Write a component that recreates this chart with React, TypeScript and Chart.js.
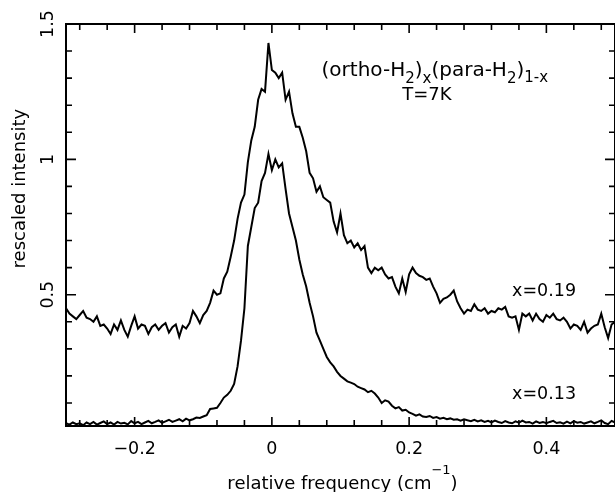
import React, { useEffect, useRef } from "react";
import { Chart, registerables } from "chart.js";

Chart.register(...registerables);

// relative frequency grid (cm^-1)
const frequency = [
  -0.300, -0.295, -0.290, -0.285, -0.280, -0.275, -0.270, -0.265, -0.260, -0.255,
  -0.250, -0.245, -0.240, -0.235, -0.230, -0.225, -0.220, -0.215, -0.210, -0.205,
  -0.200, -0.195, -0.190, -0.185, -0.180, -0.175, -0.170, -0.165, -0.160, -0.155,
  -0.150, -0.145, -0.140, -0.135, -0.130, -0.125, -0.120, -0.115, -0.110, -0.105,
  -0.100, -0.095, -0.090, -0.085, -0.080, -0.075, -0.070, -0.065, -0.060, -0.055,
  -0.050, -0.045, -0.040, -0.035, -0.030, -0.025, -0.020, -0.015, -0.010, -0.005,
  0.000, 0.005, 0.010, 0.015, 0.020, 0.025, 0.030, 0.035, 0.040, 0.045,
  0.050, 0.055, 0.060, 0.065, 0.070, 0.075, 0.080, 0.085, 0.090, 0.095,
  0.100, 0.105, 0.110, 0.115, 0.120, 0.125, 0.130, 0.135, 0.140, 0.145,
  0.150, 0.155, 0.160, 0.165, 0.170, 0.175, 0.180, 0.185, 0.190, 0.195,
  0.200, 0.205, 0.210, 0.215, 0.220, 0.225, 0.230, 0.235, 0.240, 0.245,
  0.250, 0.255, 0.260, 0.265, 0.270, 0.275, 0.280, 0.285, 0.290, 0.295,
  0.300, 0.305, 0.310, 0.315, 0.320, 0.325, 0.330, 0.335, 0.340, 0.345,
  0.350, 0.355, 0.360, 0.365, 0.370, 0.375, 0.380, 0.385, 0.390, 0.395,
  0.400, 0.405, 0.410, 0.415, 0.420, 0.425, 0.430, 0.435, 0.440, 0.445,
  0.450, 0.455, 0.460, 0.465, 0.470, 0.475, 0.480, 0.485, 0.490, 0.495,
  0.500,
];

// rescaled intensity, x = 0.19
const intensityX019 = [
  0.45, 0.43, 0.42, 0.41, 0.425, 0.44, 0.415, 0.41, 0.40, 0.42,
  0.385, 0.39, 0.375, 0.355, 0.39, 0.37, 0.405, 0.37, 0.345, 0.385,
  0.42, 0.375, 0.39, 0.385, 0.355, 0.38, 0.39, 0.37, 0.385, 0.395,
  0.36, 0.38, 0.39, 0.345, 0.385, 0.375, 0.395, 0.44, 0.42, 0.395,
  0.425, 0.44, 0.47, 0.515, 0.50, 0.505, 0.56, 0.585, 0.64, 0.70,
  0.78, 0.84, 0.87, 0.99, 1.07, 1.12, 1.22, 1.26, 1.25, 1.43,
  1.33, 1.32, 1.30, 1.32, 1.22, 1.25, 1.17, 1.12, 1.12, 1.08,
  1.03, 0.95, 0.93, 0.88, 0.90, 0.86, 0.85, 0.84, 0.77, 0.73,
  0.80, 0.72, 0.69, 0.70, 0.675, 0.69, 0.665, 0.68, 0.60, 0.58,
  0.60, 0.59, 0.60, 0.575, 0.56, 0.565, 0.53, 0.505, 0.56, 0.51,
  0.575, 0.60, 0.58, 0.57, 0.565, 0.555, 0.56, 0.53, 0.505, 0.47,
  0.485, 0.49, 0.50, 0.515, 0.475, 0.45, 0.43, 0.445, 0.44, 0.465,
  0.445, 0.44, 0.45, 0.43, 0.44, 0.435, 0.45, 0.445, 0.455, 0.42,
  0.415, 0.42, 0.37, 0.43, 0.42, 0.43, 0.405, 0.43, 0.41, 0.40,
  0.425, 0.415, 0.43, 0.41, 0.405, 0.415, 0.40, 0.375, 0.39, 0.385,
  0.37, 0.40, 0.36, 0.375, 0.385, 0.39, 0.43, 0.38, 0.34, 0.39,
  0.40,
];

// rescaled intensity, x = 0.13
const intensityX013 = [
  0.025, 0.02, 0.028, 0.022, 0.025, 0.018, 0.028, 0.022, 0.03, 0.02,
  0.026, 0.032, 0.022, 0.028, 0.02, 0.03, 0.024, 0.027, 0.021, 0.033,
  0.025, 0.03, 0.022, 0.028, 0.034, 0.025, 0.03, 0.036, 0.027, 0.032,
  0.038, 0.03, 0.035, 0.04, 0.032, 0.042, 0.036, 0.04, 0.046, 0.045,
  0.05, 0.055, 0.078, 0.08, 0.082, 0.10, 0.12, 0.13, 0.145, 0.17,
  0.235, 0.33, 0.45, 0.68, 0.75, 0.82, 0.84, 0.92, 0.95, 1.02,
  0.96, 1.0, 0.97, 0.985, 0.89, 0.80, 0.75, 0.70, 0.63, 0.575,
  0.53, 0.47, 0.42, 0.36, 0.33, 0.30, 0.27, 0.25, 0.235, 0.215,
  0.20, 0.19, 0.18, 0.175, 0.17, 0.16, 0.155, 0.15, 0.14, 0.145,
  0.135, 0.12, 0.10, 0.11, 0.105, 0.09, 0.08, 0.085, 0.072, 0.075,
  0.065, 0.06, 0.053, 0.058, 0.05, 0.048, 0.052, 0.045, 0.048, 0.042,
  0.045, 0.04, 0.043, 0.038, 0.04, 0.035, 0.04, 0.036, 0.033, 0.038,
  0.032, 0.036, 0.03, 0.034, 0.028, 0.035, 0.03, 0.026, 0.033, 0.028,
  0.025, 0.032, 0.027, 0.035, 0.028, 0.03, 0.024, 0.032, 0.026, 0.03,
  0.025, 0.03, 0.034, 0.026, 0.029, 0.024, 0.031, 0.025, 0.033, 0.027,
  0.03, 0.024, 0.028, 0.032, 0.025, 0.03, 0.036, 0.026, 0.022, 0.034,
  0.028,
];

const seriesLabels = ["x=0.19", "x=0.13"];

const xTickValues = [
  -0.28, -0.24, -0.2, -0.16, -0.12, -0.08, -0.04, 0, 0.04, 0.08,
  0.12, 0.16, 0.2, 0.24, 0.28, 0.32, 0.36, 0.4, 0.44, 0.48,
];
const xMajorValues = [-0.2, 0, 0.2, 0.4];
const xMajorLabels = ["\u22120.2", "0", "0.2", "0.4"];

const yTickValues = [0.1, 0.2, 0.3, 0.4, 0.5, 0.6, 0.7, 0.8, 0.9, 1.0, 1.1, 1.2, 1.3, 1.4, 1.5];
const yMajorValues = [0.5, 1, 1.5];
const yMajorLabels = ["0.5", "1", "1.5"];

const FONT = '"DejaVu Sans", sans-serif';

function majorIndex(v: number, majors: number[]) {
  return majors.findIndex((m) => Math.abs(m - v) < 1e-9);
}

type Run = { text: string; size: number; dy: number };

function drawRuns(ctx: CanvasRenderingContext2D, x: number, y: number, runs: Run[]) {
  let cx = x;
  for (const r of runs) {
    ctx.font = `${r.size}px ${FONT}`;
    ctx.fillText(r.text, cx, y + r.dy);
    cx += ctx.measureText(r.text).width;
  }
  return cx - x;
}

const framePlugin = {
  id: "frameAndText",
  afterDraw(chart: any) {
    const { ctx, chartArea: a, scales } = chart;
    const xs = scales.x;
    const ys = scales.y;
    ctx.save();
    ctx.strokeStyle = "#000";
    ctx.fillStyle = "#000";
    ctx.lineWidth = 2;
    ctx.strokeRect(a.left, a.top, a.right - a.left, a.bottom - a.top);

    ctx.lineWidth = 1.6;
    ctx.beginPath();
    for (const t of xs.ticks) {
      const px = xs.getPixelForValue(t.value);
      const len = majorIndex(t.value, xMajorValues) >= 0 ? 9 : 6;
      ctx.moveTo(px, a.bottom);
      ctx.lineTo(px, a.bottom - len);
      ctx.moveTo(px, a.top);
      ctx.lineTo(px, a.top + len);
    }
    for (const t of ys.ticks) {
      const py = ys.getPixelForValue(t.value);
      const len = majorIndex(t.value, yMajorValues) >= 0 ? 10 : 6;
      ctx.moveTo(a.left, py);
      ctx.lineTo(a.left + len, py);
      ctx.moveTo(a.right, py);
      ctx.lineTo(a.right - len, py);
    }
    ctx.stroke();

    ctx.textAlign = "left";
    ctx.textBaseline = "alphabetic";

    // annotation
    const tx = xs.getPixelForValue(0.0724);
    const ty = ys.getPixelForValue(1.3095);
    drawRuns(ctx, tx, ty, [
      { text: "(ortho-H", size: 20, dy: 0 },
      { text: "2", size: 15, dy: 7 },
      { text: ")", size: 20, dy: 0 },
      { text: "x", size: 15, dy: 7 },
      { text: "(para-H", size: 20, dy: 0 },
      { text: "2", size: 15, dy: 7 },
      { text: ")", size: 20, dy: 0 },
      { text: "1-x", size: 15, dy: 6 },
    ]);
    drawRuns(ctx, xs.getPixelForValue(0.19), ys.getPixelForValue(1.2188), [
      { text: "T=7K", size: 18, dy: 0 },
    ]);

    // series labels
    drawRuns(ctx, xs.getPixelForValue(0.35), ys.getPixelForValue(0.4937), [
      { text: seriesLabels[0], size: 17.5, dy: 0 },
    ]);
    drawRuns(ctx, xs.getPixelForValue(0.35), ys.getPixelForValue(0.1163), [
      { text: seriesLabels[1], size: 17.5, dy: 0 },
    ]);

    // x axis title
    const xRuns: Run[] = [
      { text: "relative frequency (cm", size: 18, dy: 0 },
      { text: "\u22121", size: 13, dy: -15 },
      { text: ")", size: 18, dy: 0 },
    ];
    let w = 0;
    for (const r of xRuns) {
      ctx.font = `${r.size}px ${FONT}`;
      w += ctx.measureText(r.text).width;
    }
    const cxm = (a.left + a.right) / 2 + 2;
    drawRuns(ctx, cxm - w / 2, a.bottom + 63, xRuns);

    // y axis title
    ctx.save();
    ctx.translate(a.left - 41, ys.getPixelForValue(0.597));
    ctx.rotate(-Math.PI / 2);
    ctx.font = `18px ${FONT}`;
    ctx.fillText("rescaled intensity", 0, 0);
    ctx.restore();

    ctx.restore();
  },
};

export default function App() {
  const ref = useRef<HTMLCanvasElement | null>(null);

  useEffect(() => {
    const canvas = ref.current;
    if (!canvas) return;
    const lineStyle = {
      borderColor: "#000",
      borderWidth: 2,
      pointRadius: 0,
      fill: false,
      tension: 0,
    };
    const chart = new Chart(canvas, {
      type: "line",
      data: {
        datasets: [
          {
            label: seriesLabels[0],
            data: frequency.map((f, i) => ({ x: f, y: intensityX019[i] })),
            ...lineStyle,
          },
          {
            label: seriesLabels[1],
            data: frequency.map((f, i) => ({ x: f, y: intensityX013[i] })),
            ...lineStyle,
          },
        ],
      },
      options: {
        animation: false,
        responsive: false,
        layout: { padding: { top: 24, right: 0, bottom: 0, left: 0 } },
        plugins: { legend: { display: false }, tooltip: { enabled: false } },
        scales: {
          x: {
            type: "linear",
            min: -0.3,
            max: 0.5,
            afterBuildTicks: (s: any) => {
              s.ticks = xTickValues.map((v) => ({ value: v }));
            },
            afterFit: (s: any) => {
              s.height = 66;
            },
            grid: { display: false, drawTicks: false },
            border: { display: false },
            ticks: {
              autoSkip: false,
              minRotation: 0,
              maxRotation: 0,
              padding: 13,
              color: "#000",
              font: { family: FONT, size: 17.5 },
              callback: (v: any) => {
                const k = majorIndex(Number(v), xMajorValues);
                return k >= 0 ? xMajorLabels[k] : "";
              },
            },
          },
          y: {
            type: "linear",
            min: 0.015,
            max: 1.5,
            afterBuildTicks: (s: any) => {
              s.ticks = yTickValues.map((v) => ({ value: v }));
            },
            afterFit: (s: any) => {
              s.width = 66;
            },
            grid: { display: false, drawTicks: false },
            border: { display: false },
            ticks: {
              autoSkip: false,
              minRotation: 90,
              maxRotation: 90,
              crossAlign: "center",
              padding: 4,
              color: "#000",
              font: { family: FONT, size: 17.5 },
              callback: (v: any) => {
                const k = majorIndex(Number(v), yMajorValues);
                return k >= 0 ? yMajorLabels[k] : "";
              },
            },
          },
        },
      },
      plugins: [framePlugin],
    } as any);
    return () => chart.destroy();
  }, []);

  return (
    <div style={{ position: "fixed", left: 0, top: 0, width: 615, height: 492, background: "#fff" }}>
      <canvas ref={ref} width={615} height={492} style={{ display: "block" }} />
    </div>
  );
}
